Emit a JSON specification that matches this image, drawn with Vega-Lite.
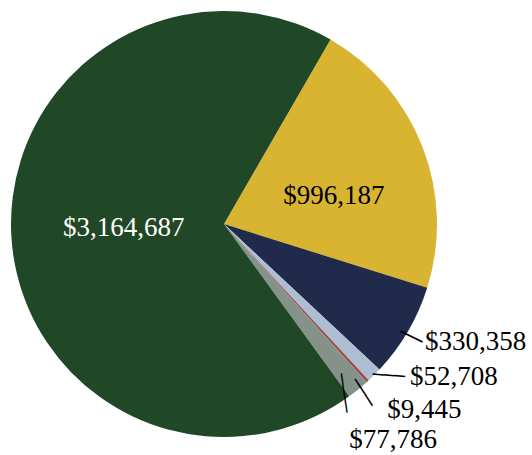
{
  "$schema": "https://vega.github.io/schema/vega-lite/v6.json",
  "width": 448,
  "height": 448,
  "autosize": {"type": "none"},
  "padding": {"left": 0, "top": 0, "right": 84, "bottom": 7},
  "background": "white",
  "config": {"view": {"stroke": null}},
  "data": {
    "values": [
      {"cat": "B", "value": 996187, "idx": 1},
      {"cat": "C", "value": 330358, "idx": 2},
      {"cat": "D", "value": 52708, "idx": 3},
      {"cat": "E", "value": 9445, "idx": 4},
      {"cat": "F", "value": 77786, "idx": 5},
      {"cat": "A", "value": 3164687, "idx": 6}
    ]
  },
  "encoding": {
    "theta": {"field": "value", "type": "quantitative", "stack": true, "scale": {"range": [0.5236, 6.8068]}},
    "order": {"field": "idx", "type": "quantitative"},
    "detail": {"field": "cat", "type": "nominal"}
  },
  "layer": [
    {
      "mark": {"type": "arc", "radius": 213, "strokeWidth": 0},
      "encoding": {
        "color": {"field": "cat", "type": "nominal", "legend": null,
          "scale": {"domain": ["A", "B", "C", "D", "E", "F"], "range": ["#214826", "#D8B430", "#202A4A", "#AEBED2", "#9A4A48", "#84928A"]}}
      }
    },
    {
      "mark": {"type": "text", "radius": 100, "dx": -0.4, "dy": 6.8, "align": "center", "baseline": "alphabetic", "font": "Liberation Serif", "fontSize": 27, "color": "white"},
      "encoding": {"text": {"condition": {"test": "datum.cat === 'A'", "field": "value", "type": "quantitative", "format": "$,d"}, "value": ""}}
    },
    {
      "mark": {"type": "text", "radius": 110, "dx": 7.3, "dy": 20.2, "align": "center", "baseline": "alphabetic", "font": "Liberation Serif", "fontSize": 27, "color": "black"},
      "encoding": {"text": {"condition": {"test": "datum.cat === 'B'", "field": "value", "type": "quantitative", "format": "$,d"}, "value": ""}}
    },
    {
      "mark": {"type": "text", "radius": 213, "dx": 17.1, "dy": 18.6, "align": "left", "baseline": "alphabetic", "font": "Liberation Serif", "fontSize": 27, "color": "black"},
      "encoding": {"text": {"condition": {"test": "datum.cat === 'C'", "field": "value", "type": "quantitative", "format": "$,d"}, "value": ""}}
    },
    {
      "mark": {"type": "text", "radius": 213, "dx": 35.9, "dy": 9.9, "align": "left", "baseline": "alphabetic", "font": "Liberation Serif", "fontSize": 27, "color": "black"},
      "encoding": {"text": {"condition": {"test": "datum.cat === 'D'", "field": "value", "type": "quantitative", "format": "$,d"}, "value": ""}}
    },
    {
      "mark": {"type": "text", "radius": 213, "dx": 19.6, "dy": 37, "align": "left", "baseline": "alphabetic", "font": "Liberation Serif", "fontSize": 27, "color": "black"},
      "encoding": {"text": {"condition": {"test": "datum.cat === 'E'", "field": "value", "type": "quantitative", "format": "$,d"}, "value": ""}}
    },
    {
      "mark": {"type": "text", "radius": 213, "dx": -8.8, "dy": 58.5, "align": "left", "baseline": "alphabetic", "font": "Liberation Serif", "fontSize": 27, "color": "black"},
      "encoding": {"text": {"condition": {"test": "datum.cat === 'F'", "field": "value", "type": "quantitative", "format": "$,d"}, "value": ""}}
    },
    {
      "mark": {"type": "text", "radius": 213, "dx": 5.6, "dy": 3.9, "angle": 26.3, "align": "center", "baseline": "middle", "font": "DejaVu Sans Mono", "fontSize": 20, "color": "black"},
      "encoding": {"text": {"condition": {"test": "datum.cat === 'C'", "value": "──"}, "value": ""}}
    },
    {
      "mark": {"type": "text", "radius": 213, "dx": 14.7, "dy": 0.4, "angle": 4.1, "align": "center", "baseline": "middle", "font": "DejaVu Sans Mono", "fontSize": 17.9, "color": "black"},
      "encoding": {"text": {"condition": {"test": "datum.cat === 'D'", "value": "───"}, "value": ""}}
    },
    {
      "mark": {"type": "text", "radius": 213, "dx": 7, "dy": 10.4, "angle": 57, "align": "center", "baseline": "middle", "font": "DejaVu Sans Mono", "fontSize": 17.6, "color": "black"},
      "encoding": {"text": {"condition": {"test": "datum.cat === 'E'", "value": "───"}, "value": ""}}
    },
    {
      "mark": {"type": "text", "radius": 213, "dx": 1.4, "dy": 15, "angle": 81.7, "align": "center", "baseline": "middle", "font": "DejaVu Sans Mono", "fontSize": 16.4, "color": "black"},
      "encoding": {"text": {"condition": {"test": "datum.cat === 'F'", "value": "────"}, "value": ""}}
    }
  ]
}
